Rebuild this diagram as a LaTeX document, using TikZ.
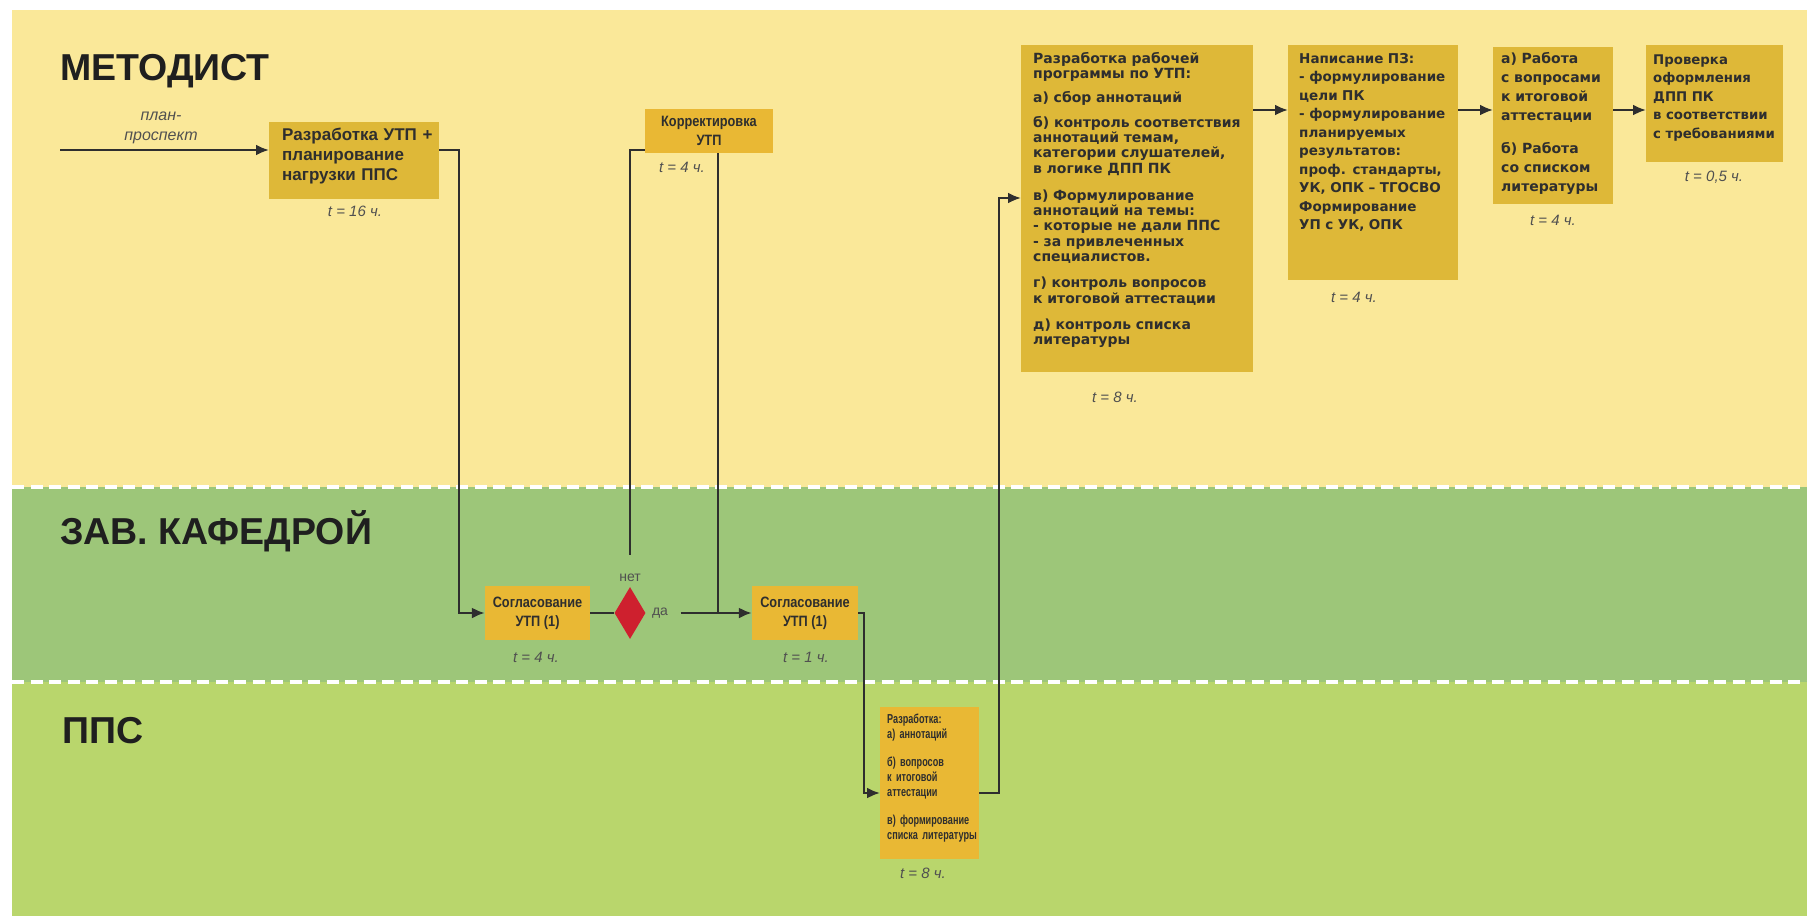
\documentclass[tikz,border=0pt]{standalone}
\usepackage{fontspec}
\setmainfont{Liberation Sans}
\newfontfamily\verd{DejaVu Sans}
\newfontfamily\condfont[FakeStretch=0.85]{Liberation Sans}
\newfontfamily\slimfont[FakeStretch=0.7]{Liberation Sans}
\usepackage{tikz}
\usetikzlibrary{arrows.meta,shapes.geometric}

\definecolor{lane1}{HTML}{FAE899}
\definecolor{lane2}{HTML}{9DC679}
\definecolor{lane3}{HTML}{B9D66C}
\definecolor{gold}{HTML}{DEB838}
\definecolor{gold2}{HTML}{E9B834}
\definecolor{rombc}{HTML}{CE202E}
\definecolor{ink}{HTML}{2E2E2E}
\definecolor{note}{HTML}{505050}

\tikzset{
  lane/.style={font=\bfseries\fontsize{37.5}{42}\selectfont, text=black!88, anchor=base west, inner sep=0pt},
  box/.style={fill=gold, anchor=north west, inner sep=0pt, align=left, text=ink},
  sbox/.style={fill=gold2, inner sep=0pt, align=center, text=ink, font=\condfont\bfseries\fontsize{15}{19}\selectfont},
  time/.style={font=\itshape\fontsize{15}{18}\selectfont, text=note},
  small/.style={font=\fontsize{14}{16}\selectfont, text=note},
  wire/.style={draw=ink, line width=2.3pt},
  wirearr/.style={wire, -{Latex[length=13pt,width=11pt]}},
  lanesep/.style={draw=white, line width=4.5pt, dash pattern=on 12pt off 6.5pt},
}

\begin{document}
\begin{tikzpicture}[x=1pt, y=-1pt]
  \useasboundingbox (0,0) rectangle (1807,916);
  \fill[white] (0,0) rectangle (1807,916);
  % lanes
  \fill[lane1] (12,10) rectangle (1807,487);
  \fill[lane2] (12,487) rectangle (1807,682);
  \fill[lane3] (12,682) rectangle (1807,916);
  \draw[lanesep] (12,487) -- (1807,487);
  \draw[lanesep] (12,682) -- (1807,682);
  \node[lane] (l1) at (60,80) {МЕТОДИСТ};
  \node[lane] (l2) at (60,544) {ЗАВ. КАФЕДРОЙ};
  \node[lane] (l3) at (62,743) {ППС};

  \node[small, font=\itshape\fontsize{16}{20}\selectfont, align=center] (plan) at (161,128) {план-\\проспект};
  \node[box, font=\bfseries\fontsize{17}{20}\selectfont, text width=170pt, text height=18pt, text depth=59pt] (razr) at (269,122)
    {\leftskip=13pt Разработка УТП +\\планирование\\нагрузки ППС\par};
  \node[time] (t1) at (355,211) {t = 16 ч.};

  \node[sbox, minimum width=128pt, minimum height=44pt] (korr) at (709,131) {Корректировка\\УТП};
  \node[time] (t2) at (682,167) {t = 4 ч.};

  \node[sbox, minimum width=105pt, minimum height=54pt] (sogl1) at (537.5,613) {Согласование\\УТП (1)};
  \node[time] (t3) at (536,657) {t = 4 ч.};
  \node[diamond, fill=rombc, minimum width=31pt, minimum height=52pt, inner sep=0pt] (romb) at (630,613) {};
  \node[small] (net) at (630,578) {нет};
  \node[small] (da) at (660,613) {да};
  \node[sbox, minimum width=106pt, minimum height=54pt] (sogl2) at (805,613) {Согласование\\УТП (1)};
  \node[time] (t4) at (806,657) {t = 1 ч.};

  \node[box, fill=gold2, font=\slimfont\bfseries\fontsize{13}{15}\selectfont, text width=99pt, text height=16pt, text depth=136pt] (ppsr) at (880,707)
    {\leftskip=7pt Разработка:\\а) аннотаций\\[13pt]б) вопросов\\к итоговой\\аттестации\\[13pt]в) формирование\\списка литературы\par};
  \node[time] (t5) at (923,873) {t = 8 ч.};

  \node[box, font=\verd\bfseries\fontsize{14}{15.3}\selectfont, text width=232pt, text height=18pt, text depth=309pt] (rab) at (1021,45)
    {\leftskip=12pt Разработка рабочей\\программы по УТП:\\[9pt]а) сбор аннотаций\\[9pt]б) контроль соответствия\\аннотаций темам,\\категории слушателей,\\в логике ДПП ПК\\[12pt]в) Формулирование\\аннотаций на темы:\\- которые не дали ППС\\- за привлеченных\\специалистов.\\[11pt]г) контроль вопросов\\к итоговой аттестации\\[11pt]д) контроль списка\\литературы\par};
  \node[time] (t6) at (1115,397) {t = 8 ч.};

  \node[box, font=\verd\bfseries\fontsize{13.5}{18.5}\selectfont, text width=170pt, text height=18pt, text depth=217pt] (pz) at (1288,45)
    {\leftskip=11pt Написание ПЗ:\\- формулирование\\цели ПК\\- формулирование\\планируемых\\результатов:\\проф. стандарты,\\УК, ОПК – ТГОСВО\\Формирование\\УП с УК, ОПК\par};
  \node[time] (t7) at (1354,297) {t = 4 ч.};

  \node[box, font=\verd\bfseries\fontsize{14}{19}\selectfont, text width=120pt, text height=16pt, text depth=141pt] (att) at (1493,47)
    {\leftskip=8pt а) Работа\\с вопросами\\к итоговой\\аттестации\\[14pt]б) Работа\\со списком\\литературы\par};
  \node[time] (t8) at (1553,220) {t = 4 ч.};

  \node[box, font=\verd\bfseries\fontsize{13.3}{18.5}\selectfont, text width=137pt, text height=19pt, text depth=98pt] (prov) at (1646,45)
    {\leftskip=7pt Проверка\\оформления\\ДПП ПК\\в соответствии\\с требованиями\par};
  \node[time] (t9) at (1714,177) {t = 0,5 ч.};

  % connectors
  \coordinate (in) at (60,150);
  \coordinate (k1) at (459,150);
  \coordinate (k2) at (864,793);
  \coordinate (k3) at (999,198);
  \coordinate (k4) at (0,110);
  \coordinate (k5) at (718,613);
  \draw[wirearr] (in) -- (in -| razr.west);
  \draw[wirearr] (in -| razr.east) -- (k1) |- (sogl1);
  \draw[wire] (sogl1) -- (romb);
  \draw[wirearr] ([xshift=9pt]da.east) -- (sogl2);
  \draw[wire] ([yshift=16pt]net.north) |- ([yshift=3pt]korr.south west);
  \draw[wire] (k5 |- korr.south) -- (k5);
  \draw[wirearr] (sogl2.east) -| (k2) -- (k2 -| ppsr.west);
  \draw[wirearr] (k2 -| ppsr.east) -| (k3) -- (k3 -| rab.west);
  \draw[wirearr] (rab.east |- k4) -- (pz.west |- k4);
  \draw[wirearr] (pz.east |- k4) -- (att.west |- k4);
  \draw[wirearr] (att.east |- k4) -- (prov.west |- k4);
\end{tikzpicture}
\end{document}
